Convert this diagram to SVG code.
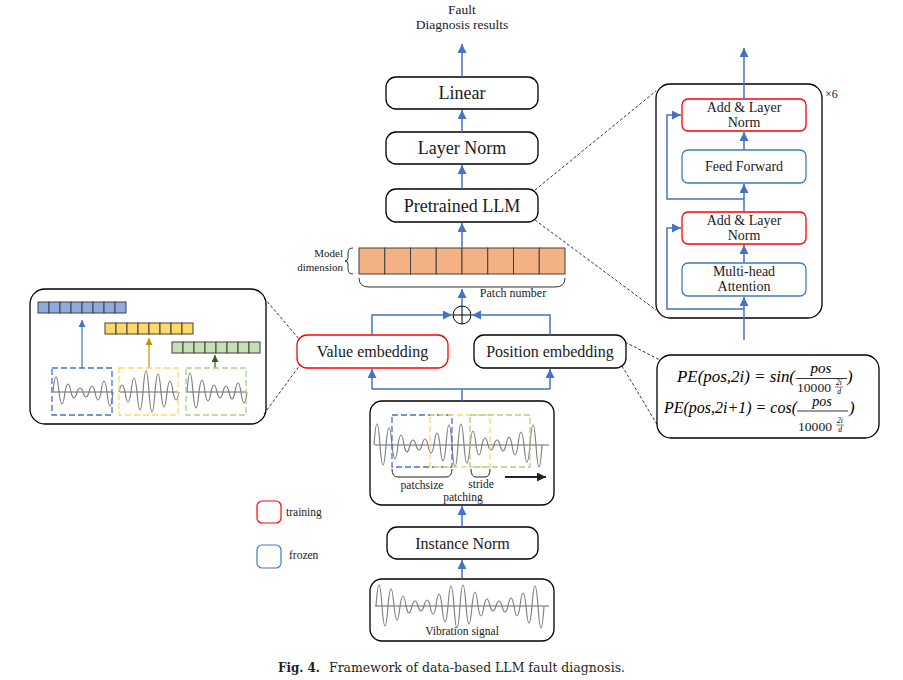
<svg xmlns="http://www.w3.org/2000/svg" xmlns:xlink="http://www.w3.org/1999/xlink" width="903" height="680" viewBox="0 0 903 680">
<style>
  .box{fill:#fff;stroke:#000;stroke-width:1.3}
  .red{fill:#fff;stroke:#FF0000;stroke-width:1.3}
  .frz{fill:#fff;stroke:#3B7DC4;stroke-width:1.3}
  .t{font-family:"Liberation Serif","Times New Roman",serif;fill:#1a1a1a}
  .m{font-family:"Liberation Serif","Times New Roman",serif;font-style:italic;fill:#000}
  .lk{fill:none;stroke:#4472C4;stroke-width:1.5}
  .dash{fill:none;stroke:#000;stroke-width:0.8;stroke-dasharray:3,2}
  .wave{fill:none;stroke:#808080;stroke-width:1.2}
  .axis{stroke:#555;stroke-width:0.9}
  .cell{stroke:#404040;stroke-width:1}
</style>
<defs>
  <marker id="ah" markerUnits="userSpaceOnUse" markerWidth="10" markerHeight="10" refX="9" refY="4.5" orient="auto">
    <path d="M0,0 L9,4.5 L0,9 z" fill="#4472C4"/>
  </marker>
  <marker id="ahy" markerUnits="userSpaceOnUse" markerWidth="8" markerHeight="8" refX="7" refY="3.5" orient="auto">
    <path d="M0,0 L7,3.5 L0,7 z" fill="#BF9000"/>
  </marker>
  <marker id="ahg" markerUnits="userSpaceOnUse" markerWidth="8" markerHeight="8" refX="7" refY="3.5" orient="auto">
    <path d="M0,0 L7,3.5 L0,7 z" fill="#385723"/>
  </marker>
  <marker id="ahb" markerUnits="userSpaceOnUse" markerWidth="8" markerHeight="8" refX="7" refY="3.5" orient="auto">
    <path d="M0,0 L7,3.5 L0,7 z" fill="#4472C4"/>
  </marker>
  <marker id="ahk" markerUnits="userSpaceOnUse" markerWidth="10" markerHeight="10" refX="9" refY="4.5" orient="auto">
    <path d="M0,0 L9,4.5 L0,9 z" fill="#222"/>
  </marker>
  <path id="sig" class="wave" d="M376,606 q3,-42 6,0 q3,40 6,0 q3,-34 6,0 q3,28 6,0 q3,-20 6,0 q3,14 6,0 q3,-10 6,0 q3,10 6,0 q3,-12 6,0 q3,16 6,0 q3,-24 6,0 q3,32 6,0 q3,-40 6,0 q3,44 6,0 q3,-42 6,0 q3,36 6,0 q3,-28 6,0 q3,20 6,0 q3,-14 6,0 q3,10 6,0 q3,-10 6,0 q3,12 6,0 q3,-16 6,0 q3,20 6,0 q3,-26 6,0 q3,34 6,0 q3,-40 6,0 q3,44 6,0"/>
</defs>
<rect width="903" height="680" fill="#fff"/>

<g id="output">
  <text class="t" x="462" y="14" font-size="13.5" text-anchor="middle" fill="#333">Fault</text>
  <text class="t" x="462" y="28.5" font-size="13.5" text-anchor="middle" fill="#333">Diagnosis results</text>
</g>

<g id="linear">
  <rect class="box" x="386" y="77" width="152" height="32" rx="10"/>
  <text class="t" x="462" y="99" font-size="18" text-anchor="middle">Linear</text>
</g>
<g id="layer-norm">
  <rect class="box" x="386" y="132" width="152" height="32" rx="10"/>
  <text class="t" x="462" y="154" font-size="18" text-anchor="middle">Layer Norm</text>
</g>
<g id="pretrained-llm">
  <rect class="box" x="386" y="189" width="152" height="33" rx="10"/>
  <text class="t" x="462" y="211.5" font-size="18" text-anchor="middle">Pretrained LLM</text>
</g>

<g id="embedding-tensor">
  <g fill="#F4B183" class="cell">
    <rect x="359" y="248" width="25.75" height="26"/>
    <rect x="384.75" y="248" width="25.75" height="26"/>
    <rect x="410.5" y="248" width="25.75" height="26"/>
    <rect x="436.25" y="248" width="25.75" height="26"/>
    <rect x="462" y="248" width="25.75" height="26"/>
    <rect x="487.75" y="248" width="25.75" height="26"/>
    <rect x="513.5" y="248" width="25.75" height="26"/>
    <rect x="539.25" y="248" width="25.75" height="26"/>
  </g>
  <path d="M353,248 q-5,0 -5,5 v5 q0,3 -3,3 q3,0 3,3 v5 q0,5 5,5" fill="none" stroke="#333" stroke-width="1"/>
  <path d="M359,278 q0,9 10,9 h186 q10,0 10,-9" fill="none" stroke="#333" stroke-width="1"/>
  <text class="t" x="343" y="257" font-size="11" text-anchor="end" fill="#333">Model</text>
  <text class="t" x="343" y="271" font-size="11" text-anchor="end" fill="#333">dimension</text>
  <text class="t" x="513" y="297" font-size="12" text-anchor="middle" fill="#333">Patch number</text>
</g>

<g id="add">
  <circle cx="462" cy="315" r="9" fill="#fff" stroke="#000" stroke-width="1"/>
  <path d="M453,315 H471 M462,306 V324" stroke="#000" stroke-width="1"/>
</g>

<g id="value-embedding">
  <rect class="red" x="297" y="335" width="151" height="33" rx="10"/>
  <text class="t" x="372.5" y="357" font-size="16" text-anchor="middle">Value embedding</text>
</g>
<g id="position-embedding">
  <rect class="box" x="474" y="335" width="152" height="33" rx="10"/>
  <text class="t" x="550" y="357" font-size="16" text-anchor="middle">Position embedding</text>
</g>

<g id="patching">
  <rect class="box" x="370" y="401" width="184" height="104" rx="12"/>
  <line class="axis" x1="375" y1="445" x2="549" y2="445"/>
  <use xlink:href="#sig" transform="translate(-2,-161)"/>
  <rect x="392" y="415" width="60" height="52" fill="none" stroke="#4472C4" stroke-width="1.3" stroke-dasharray="6,3"/>
  <rect x="430" y="415" width="60" height="52" fill="none" stroke="#FFD966" stroke-width="1.3" stroke-dasharray="6,3"/>
  <rect x="470" y="415" width="60" height="52" fill="none" stroke="#A9D18E" stroke-width="1.3" stroke-dasharray="6,3"/>
  <path d="M392,469 q0,8 6,8 h48 q6,0 6,-8" fill="none" stroke="#222" stroke-width="1"/>
  <path d="M471,469 q0,8 5,8 h9 q5,0 5,-8" fill="none" stroke="#222" stroke-width="1"/>
  <line x1="505" y1="477" x2="546" y2="477" stroke="#222" stroke-width="1.8" marker-end="url(#ahk)"/>
  <text class="t" x="422" y="488.5" font-size="11.5" text-anchor="middle" fill="#333">patchsize</text>
  <text class="t" x="481" y="488" font-size="11.5" text-anchor="middle" fill="#333">stride</text>
  <text class="t" x="463" y="501" font-size="11.5" text-anchor="middle" fill="#333">patching</text>
</g>

<g id="instance-norm">
  <rect class="box" x="387" y="527" width="151" height="32" rx="10"/>
  <text class="t" x="462.5" y="549" font-size="16" text-anchor="middle">Instance Norm</text>
</g>

<g id="vibration-signal">
  <rect class="box" x="370" y="579" width="184" height="62" rx="12"/>
  <line class="axis" x1="375" y1="606" x2="549" y2="606"/>
  <use xlink:href="#sig"/>
  <text class="t" x="462" y="635" font-size="11.5" text-anchor="middle" fill="#222">Vibration signal</text>
</g>

<g id="legend">
  <rect x="257" y="501" width="24" height="22" rx="5" fill="#fff" stroke="#FF0000" stroke-width="1.2"/>
  <text class="t" x="286" y="516" font-size="11.5" fill="#333">training</text>
  <rect x="257" y="545" width="24" height="23" rx="5" fill="#fff" stroke="#3B7DC4" stroke-width="1.2"/>
  <text class="t" x="289" y="559" font-size="11.5" fill="#333">frozen</text>
</g>

<g id="value-embedding-detail">
  <rect class="box" x="30" y="289" width="236" height="135" rx="15"/>
  <g fill="#8FAADC" class="cell">
    <rect x="38" y="302" width="11" height="11"/><rect x="49" y="302" width="11" height="11"/><rect x="60" y="302" width="11" height="11"/><rect x="71" y="302" width="11" height="11"/><rect x="82" y="302" width="11" height="11"/><rect x="93" y="302" width="11" height="11"/><rect x="104" y="302" width="11" height="11"/><rect x="115" y="302" width="11" height="11"/>
  </g>
  <g fill="#FFD966" class="cell">
    <rect x="105" y="323" width="11" height="11"/><rect x="116" y="323" width="11" height="11"/><rect x="127" y="323" width="11" height="11"/><rect x="138" y="323" width="11" height="11"/><rect x="149" y="323" width="11" height="11"/><rect x="160" y="323" width="11" height="11"/><rect x="171" y="323" width="11" height="11"/><rect x="182" y="323" width="11" height="11"/>
  </g>
  <g fill="#C5E0B4" class="cell">
    <rect x="172" y="342" width="11" height="11"/><rect x="183" y="342" width="11" height="11"/><rect x="194" y="342" width="11" height="11"/><rect x="205" y="342" width="11" height="11"/><rect x="216" y="342" width="11" height="11"/><rect x="227" y="342" width="11" height="11"/><rect x="238" y="342" width="11" height="11"/><rect x="249" y="342" width="11" height="11"/>
  </g>
  <line x1="82" y1="368" x2="82" y2="320" stroke="#4472C4" stroke-width="1.2" marker-end="url(#ahb)"/>
  <line x1="149" y1="368" x2="149" y2="338" stroke="#BF9000" stroke-width="1.2" marker-end="url(#ahy)"/>
  <line x1="215" y1="368" x2="215" y2="355" stroke="#385723" stroke-width="1.2" marker-end="url(#ahg)"/>
  <line class="axis" x1="53" y1="392" x2="112" y2="392"/>
  <line class="axis" x1="120" y1="392" x2="178" y2="392"/>
  <line class="axis" x1="187" y1="392" x2="246" y2="392"/>
  <path class="wave" d="M53,392 q3,-30 6,0 q3,24 6,0 q3,-16 6,0 q3,12 6,0 q3,-8 6,0 q3,10 6,0 q3,-12 6,0 q3,16 6,0 q3,-22 6,0 q3,28 6,0"/>
  <path class="wave" d="M119,392 q3,-14 6,0 q3,20 6,0 q3,-28 6,0 q3,36 6,0 q3,-42 6,0 q3,40 6,0 q3,-36 6,0 q3,30 6,0 q3,-22 6,0 q3,16 6,0"/>
  <path class="wave" d="M187,392 q3,-38 6,0 q3,32 6,0 q3,-24 6,0 q3,18 6,0 q3,-14 6,0 q3,12 6,0 q3,-12 6,0 q3,14 6,0 q3,-18 6,0 q3,22 6,0"/>
  <rect x="52" y="368" width="60" height="47" fill="none" stroke="#4472C4" stroke-width="1.3" stroke-dasharray="6,3"/>
  <rect x="119" y="368" width="59" height="47" fill="none" stroke="#FFD966" stroke-width="1.3" stroke-dasharray="6,3"/>
  <rect x="186" y="368" width="60" height="47" fill="none" stroke="#A9D18E" stroke-width="1.3" stroke-dasharray="6,3"/>
</g>

<g id="transformer-block">
  <rect class="box" x="656" y="84" width="166" height="234" rx="14"/>
  <text class="t" x="825" y="98" font-size="12" fill="#222">×6</text>
  <g id="add-norm-top">
    <rect class="red" x="682" y="99" width="124" height="32" rx="6"/>
    <text class="t" x="744" y="112" font-size="14" text-anchor="middle">Add &amp; Layer</text>
    <text class="t" x="744" y="127" font-size="14" text-anchor="middle">Norm</text>
  </g>
  <g id="feed-forward">
    <rect class="frz" x="682" y="150" width="124" height="33" rx="6"/>
    <text class="t" x="744" y="171" font-size="14" text-anchor="middle">Feed Forward</text>
  </g>
  <g id="add-norm-bottom">
    <rect class="red" x="682" y="212" width="124" height="32" rx="6"/>
    <text class="t" x="744" y="225" font-size="14" text-anchor="middle">Add &amp; Layer</text>
    <text class="t" x="744" y="240" font-size="14" text-anchor="middle">Norm</text>
  </g>
  <g id="multi-head-attention">
    <rect class="frz" x="682" y="263" width="124" height="33" rx="6"/>
    <text class="t" x="744" y="276" font-size="14" text-anchor="middle">Multi-head</text>
    <text class="t" x="744" y="291" font-size="14" text-anchor="middle">Attention</text>
  </g>
</g>

<g id="positional-formula">
  <rect class="box" x="657" y="355" width="222" height="83" rx="14"/>
  <text class="m" x="677" y="382" font-size="17" textLength="118" lengthAdjust="spacingAndGlyphs">PE(pos,2i) = sin(</text>
  <text class="m" x="821" y="373" font-size="15" text-anchor="middle">pos</text>
  <line x1="796" y1="378.5" x2="847" y2="378.5" stroke="#000" stroke-width="0.8"/>
  <text class="t" x="797" y="392" font-size="13.5" textLength="34" lengthAdjust="spacingAndGlyphs" fill="#000">10000</text>
  <text class="m" x="839" y="385" font-size="7.5" text-anchor="middle">2i</text>
  <line x1="835" y1="387" x2="843" y2="387" stroke="#000" stroke-width="0.5"/>
  <text class="m" x="839" y="393.5" font-size="7.5" text-anchor="middle">d</text>
  <text class="m" x="847" y="382" font-size="17">)</text>

  <text class="m" x="664" y="413" font-size="17" textLength="133" lengthAdjust="spacingAndGlyphs">PE(pos,2i+1) = cos(</text>
  <text class="m" x="822" y="406" font-size="14" text-anchor="middle">pos</text>
  <line x1="797" y1="411" x2="848" y2="411" stroke="#000" stroke-width="0.8"/>
  <text class="t" x="798" y="431" font-size="13.5" textLength="34" lengthAdjust="spacingAndGlyphs" fill="#000">10000</text>
  <text class="m" x="840" y="423" font-size="7.5" text-anchor="middle">2i</text>
  <line x1="836" y1="425" x2="844" y2="425" stroke="#000" stroke-width="0.5"/>
  <text class="m" x="840" y="432" font-size="7.5" text-anchor="middle">d</text>
  <text class="m" x="849" y="413" font-size="17">)</text>
</g>

<g id="connectors">
  <path class="lk" d="M462,77 V44" marker-end="url(#ah)"/>
  <path class="lk" d="M462,132 V110" marker-end="url(#ah)"/>
  <path class="lk" d="M462,189 V165" marker-end="url(#ah)"/>
  <path class="lk" d="M462,248 V223" marker-end="url(#ah)"/>
  <path class="lk" d="M462,306 V289" marker-end="url(#ah)"/>
  <path class="lk" d="M372,335 V315 H452" marker-end="url(#ah)"/>
  <path class="lk" d="M550,335 V315 H472" marker-end="url(#ah)"/>
  <path class="lk" d="M462,401 V389 M372,389 H550"/>
  <path class="lk" d="M372,389 V369" marker-end="url(#ah)"/>
  <path class="lk" d="M550,389 V369" marker-end="url(#ah)"/>
  <path class="lk" d="M462,527 V506" marker-end="url(#ah)"/>
  <path class="lk" d="M462,579 V560" marker-end="url(#ah)"/>
  <path class="lk" d="M744,340 V297" marker-end="url(#ah)"/>
  <path class="lk" d="M744,263 V245" marker-end="url(#ah)"/>
  <path class="lk" d="M744,212 V184" marker-end="url(#ah)"/>
  <path class="lk" d="M744,150 V132" marker-end="url(#ah)"/>
  <path class="lk" d="M744,99 V48" marker-end="url(#ah)"/>
  <path class="lk" d="M744,309 H667 V228 H681" marker-end="url(#ah)"/>
  <path class="lk" d="M744,199 H667 V115 H681" marker-end="url(#ah)"/>
  <path class="dash" d="M535,190 L656,91 M535,220 L656,310"/>
  <path class="dash" d="M264,298 L300,340 M264,414 L300,365"/>
  <path class="dash" d="M625,342 L660,360 M622,366 L658,426"/>
</g>

<g id="caption">
  <text x="278" y="672" font-family="'DejaVu Serif','Liberation Serif',serif" font-size="12.5" font-weight="bold" fill="#231f20" textLength="42" lengthAdjust="spacingAndGlyphs">Fig. 4.</text>
  <text x="329" y="672" font-family="'DejaVu Serif','Liberation Serif',serif" font-size="12.5" fill="#231f20" textLength="296" lengthAdjust="spacingAndGlyphs">Framework of data-based LLM fault diagnosis.</text>
</g>
</svg>
